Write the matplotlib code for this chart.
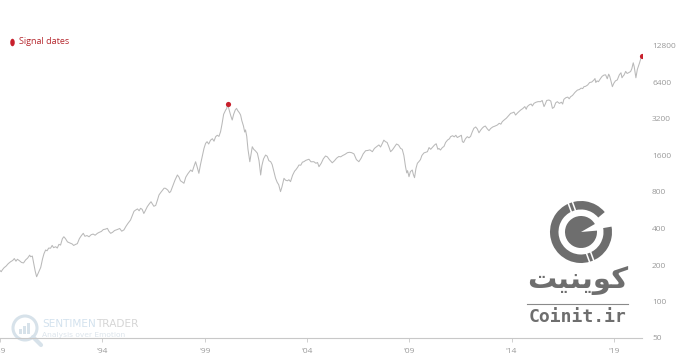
import matplotlib
matplotlib.use("Agg")
import matplotlib.pyplot as plt
from matplotlib.patches import Circle, Wedge, Rectangle, Ellipse
import numpy as np

# ---- data ----
years = [
    1989.00, 1989.06, 1989.11, 1989.20, 1989.30, 1989.40, 1989.52, 1989.62, 1989.70, 1989.78,
    1989.85, 1989.95, 1990.05, 1990.15, 1990.25, 1990.35, 1990.45, 1990.50, 1990.58, 1990.65,
    1990.72, 1990.79, 1990.86, 1990.93, 1990.99, 1991.08, 1991.15, 1991.23, 1991.30, 1991.38,
    1991.47, 1991.55, 1991.62, 1991.72, 1991.80, 1991.88, 1991.96, 1992.05, 1992.12, 1992.20,
    1992.30, 1992.40, 1992.53, 1992.60, 1992.70, 1992.78, 1992.88, 1992.98, 1993.07, 1993.15,
    1993.25, 1993.35, 1993.45, 1993.55, 1993.65, 1993.76, 1993.85, 1993.95, 1994.05, 1994.15,
    1994.25, 1994.32, 1994.41, 1994.50, 1994.60, 1994.73, 1994.85, 1994.95, 1995.06, 1995.15,
    1995.25, 1995.38, 1995.48, 1995.55, 1995.63, 1995.72, 1995.80, 1995.87, 1995.95, 1996.03,
    1996.10, 1996.20, 1996.30, 1996.38, 1996.52, 1996.61, 1996.70, 1996.77, 1996.85, 1996.95,
    1997.02, 1997.09, 1997.20, 1997.28, 1997.34, 1997.45, 1997.55, 1997.67, 1997.75, 1997.82,
    1997.90, 1997.99, 1998.08, 1998.18, 1998.32, 1998.40, 1998.48, 1998.56, 1998.64, 1998.72,
    1998.80, 1998.90, 1998.97, 1999.05, 1999.12, 1999.20, 1999.29, 1999.38, 1999.46, 1999.54,
    1999.62, 1999.70, 1999.78, 1999.85, 1999.93, 2000.03, 2000.08, 2000.13, 2000.20, 2000.28,
    2000.35, 2000.42, 2000.50, 2000.56, 2000.62, 2000.70, 2000.76, 2000.82, 2000.90, 2000.96,
    2001.00, 2001.06, 2001.12, 2001.21, 2001.27, 2001.33, 2001.40, 2001.48, 2001.58, 2001.66,
    2001.74, 2001.80, 2001.88, 2001.98, 2002.06, 2002.14, 2002.23, 2002.30, 2002.40, 2002.47,
    2002.55, 2002.62, 2002.71, 2002.78, 2002.88, 2002.96, 2003.05, 2003.12, 2003.20, 2003.30,
    2003.40, 2003.45, 2003.55, 2003.61, 2003.70, 2003.78, 2003.85, 2003.95, 2004.05, 2004.10,
    2004.20, 2004.34, 2004.44, 2004.52, 2004.59, 2004.70, 2004.80, 2004.91, 2005.00, 2005.10,
    2005.24, 2005.35, 2005.45, 2005.56, 2005.65, 2005.75, 2005.85, 2005.98, 2006.08, 2006.18,
    2006.30, 2006.42, 2006.54, 2006.65, 2006.75, 2006.87, 2006.97, 2007.08, 2007.20, 2007.30,
    2007.42, 2007.52, 2007.60, 2007.68, 2007.76, 2007.84, 2007.92, 2008.00, 2008.09, 2008.18,
    2008.28, 2008.38, 2008.48, 2008.58, 2008.66, 2008.74, 2008.82, 2008.88, 2008.92, 2008.99,
    2009.06, 2009.15, 2009.20, 2009.26, 2009.33, 2009.40, 2009.47, 2009.55, 2009.62, 2009.72,
    2009.80, 2009.89, 2009.97, 2010.05, 2010.15, 2010.24, 2010.32, 2010.40, 2010.45, 2010.53,
    2010.62, 2010.70, 2010.78, 2010.88, 2010.97, 2011.02, 2011.12, 2011.20, 2011.28, 2011.35,
    2011.45, 2011.55, 2011.60, 2011.66, 2011.75, 2011.84, 2011.92, 2012.00, 2012.08, 2012.16,
    2012.25, 2012.33, 2012.41, 2012.50, 2012.58, 2012.65, 2012.72, 2012.82, 2012.90, 2012.98,
    2013.08, 2013.20, 2013.31, 2013.40, 2013.48, 2013.55, 2013.65, 2013.75, 2013.85, 2013.96,
    2014.05, 2014.12, 2014.20, 2014.30, 2014.38, 2014.45, 2014.55, 2014.65, 2014.72, 2014.77,
    2014.88, 2014.96, 2015.02, 2015.10, 2015.20, 2015.30, 2015.42, 2015.50, 2015.59, 2015.65,
    2015.72, 2015.83, 2015.92, 2016.00, 2016.08, 2016.16, 2016.24, 2016.34, 2016.44, 2016.50,
    2016.56, 2016.66, 2016.75, 2016.82, 2016.89, 2016.98, 2017.10, 2017.22, 2017.32, 2017.40,
    2017.48, 2017.54, 2017.62, 2017.72, 2017.82, 2017.92, 2018.03, 2018.08, 2018.12, 2018.18,
    2018.25, 2018.35, 2018.43, 2018.52, 2018.60, 2018.68, 2018.75, 2018.80, 2018.86, 2018.93,
    2019.00, 2019.08, 2019.17, 2019.27, 2019.35, 2019.40, 2019.47, 2019.50, 2019.58, 2019.65,
    2019.72, 2019.82, 2019.88, 2019.95, 2020.00, 2020.08, 2020.15, 2020.25, 2020.36]
values = [
    180, 176, 182, 190, 196, 205, 213, 218, 226, 215,
    223, 217, 210, 208, 220, 228, 241, 234, 237, 205,
    178, 160, 170, 180, 191, 225, 248, 266, 262, 276,
    275, 290, 278, 283, 276, 296, 292, 330, 342, 330,
    310, 305, 298, 290, 296, 300, 330, 350, 365, 345,
    350, 342, 355, 360, 352, 365, 372, 378, 392, 395,
    401, 380, 365, 372, 385, 392, 400, 380, 390, 415,
    440, 470, 520, 555, 568, 580, 560, 587, 575, 532,
    560, 606, 640, 665, 610, 620, 690, 756, 790, 830,
    860, 858, 830, 790, 806, 900, 1000, 1105, 1060, 990,
    970, 944, 1060, 1130, 1214, 1180, 1300, 1422, 1280, 1141,
    1350, 1620, 1830, 2016, 2080, 1990, 2141, 2200, 2100, 2287,
    2350, 2300, 2514, 2900, 3500, 3797, 3900, 4256, 3800, 3400,
    3140, 3500, 3800, 3916, 3750, 3600, 3450, 3100, 2800, 2500,
    2600, 2300, 1800, 1422, 1650, 1890, 1800, 1750, 1670, 1450,
    1105, 1320, 1500, 1614, 1580, 1450, 1422, 1350, 1150, 1037,
    960, 920, 806, 880, 1037, 1000, 990, 1010, 974, 1100,
    1190, 1214, 1280, 1336, 1330, 1410, 1422, 1460, 1480, 1490,
    1420, 1422, 1380, 1400, 1294, 1380, 1500, 1585, 1560, 1480,
    1393, 1450, 1520, 1570, 1560, 1600, 1630, 1687, 1700, 1690,
    1650, 1480, 1422, 1520, 1650, 1752, 1760, 1780, 1720, 1830,
    1900, 1955, 1880, 2000, 2141, 2080, 2050, 1900, 1720, 1780,
    1880, 1990, 1950, 1830, 1800, 1600, 1294, 1150, 1200, 1070,
    1180, 1214, 1120, 1050, 1250, 1380, 1422, 1480, 1600, 1680,
    1700, 1720, 1860, 1800, 1880, 1955, 2000, 1800, 1830, 1776,
    1860, 1900, 2050, 2150, 2200, 2287, 2330, 2280, 2350, 2250,
    2300, 2350, 2080, 2050, 2200, 2287, 2240, 2300, 2500, 2681,
    2750, 2650, 2464, 2600, 2700, 2766, 2800, 2650, 2565, 2670,
    2750, 2800, 2856, 2950, 2900, 3044, 3150, 3250, 3400, 3565,
    3600, 3650, 3450, 3600, 3700, 3797, 3900, 4050, 3850, 4050,
    4200, 4250, 4100, 4311, 4400, 4450, 4446, 4550, 4050, 4250,
    4550, 4590, 4500, 3916, 4000, 4350, 4446, 4300, 4400, 4250,
    4650, 4800, 4850, 4700, 4890, 5000, 5300, 5540, 5600, 5750,
    5700, 5910, 5950, 6100, 6400, 6450, 6717, 6900, 6400, 6600,
    6500, 6900, 7200, 7370, 7400, 6870, 7500, 7200, 6600, 5910,
    6300, 6600, 6717, 7400, 7700, 7000, 7300, 7370, 7900, 7600,
    7700, 7880, 8300, 9300, 8600, 7000, 8200, 9200, 10600]
signal_years = [2000.13, 2020.36]
signal_values = [4256, 10600]
tick_years = [1989, 1994, 1999, 2004, 2009, 2014, 2019]
tick_labels = ["'89", "'94", "'99", "'04", "'09", "'14", "'19"]
y_ticks = [50, 100, 200, 400, 800, 1600, 3200, 6400, 12800]

W, H = 680, 364
fig = plt.figure(figsize=(W / 100, H / 100), dpi=100)

# main axes geometry in pixels
left_px, right_px, top_px, bot_px = 0, 642.4, 30, 338
ax = fig.add_axes([left_px / W, 1 - bot_px / H, (right_px - left_px) / W, (bot_px - top_px) / H])
ax.set_yscale("log", base=2)
ax.set_ylim(50, 50 * 2 ** ((bot_px - top_px) / 36.5))
ax.set_xlim(1989.0, 1989.0 + right_px / 20.46)

ax.plot(years, values, color="#b9b9b9", lw=0.75, zorder=2)
ax.scatter(signal_years, signal_values, s=14, color="#c8202c", zorder=3, linewidths=0)

for s in ["top", "left", "right"]:
    ax.spines[s].set_visible(False)
ax.spines["bottom"].set_color("#c8c8c8")
ax.spines["bottom"].set_linewidth(0.8)

ax.yaxis.tick_right()
ax.set_yticks(y_ticks)
ax.set_yticklabels([str(v) for v in y_ticks])
ax.yaxis.set_minor_locator(matplotlib.ticker.NullLocator())
ax.tick_params(axis="y", length=0, pad=7, labelsize=6, labelcolor="#9a9a9a",
               labelfontfamily="Open Sans")
ax.set_xticks(tick_years)
ax.set_xticklabels(tick_labels)
ax.tick_params(axis="x", length=3, width=0.6, color="#c8c8c8", pad=4, labelsize=6,
               labelcolor="#9a9a9a", labelfontfamily="Open Sans")
for lab in ax.get_yticklabels():
    lab.set_horizontalalignment("left")

# overlay in pixel coordinates for legend and watermarks
ov = fig.add_axes([0, 0, 1, 1], zorder=0)
ov.set_xlim(0, W)
ov.set_ylim(H, 0)
ov.axis("off")
ov.patch.set_alpha(0)
ax.set_zorder(1)
ax.patch.set_alpha(0)

# legend
ov.add_patch(Ellipse((12.5, 42.5), 4.5, 7.5, color="#c8202c", lw=0))
ov.text(19, 41, "Signal dates", fontsize=6.5, color="#b5272d", family="Open Sans",
        va="center", ha="left")

# SentimenTrader watermark
ov.add_patch(Circle((25, 328), 12, fill=False, ec="#d7e2ea", lw=2.2))
for bx, bh in [(19, 5), (23, 8), (27, 11)]:
    ov.add_patch(Rectangle((bx, 334 - bh), 3, bh, color="#d7e2ea", lw=0))
ov.plot([33, 41], [337, 345], color="#d7e2ea", lw=3, solid_capstyle="round")
t1 = ov.text(42, 324, "SENTIMEN", fontsize=7.6, color="#d3e2ee", family="DejaVu Sans",
             va="center", ha="left")
renderer = fig.canvas.get_renderer()
bb = t1.get_window_extent(renderer)
ov.text(bb.x1 + 0.5, 324, "TRADER", fontsize=7.6, color="#d6d6d6", family="DejaVu Sans",
        va="center", ha="left")
ov.text(42, 335, "Analysis over Emotion", fontsize=5.4, color="#dde5ec",
        family="DejaVu Sans", va="center", ha="left")

# Coinit watermark
gc = "#6e6e6e"
cx, cy = 581, 232
ov.add_patch(Wedge((cx, cy), 31, -10, 320, width=8.5, color=gc, lw=0))
ov.add_patch(Wedge((cx, cy), 16, -5, 330, color=gc, lw=0))
for ang in [250, 70]:
    a = np.deg2rad(ang)
    for off in (-2.2, 2.2):
        px_, py_ = -np.sin(a) * off, np.cos(a) * off
        ov.plot([cx + 21 * np.cos(a) + px_, cx + 32 * np.cos(a) + px_],
                [cy + 21 * np.sin(a) + py_, cy + 32 * np.sin(a) + py_],
                color="white", lw=1.1)
persian = "\uFE96\uFEF4\uFEE8\uFEF3\uFEEE\uFB90"
ov.text(578, 280, persian, fontsize=21, color=gc, family="DejaVu Sans",
        fontweight="bold", va="center", ha="center")
ov.plot([527, 628], [304, 304], color="#8a8a8a", lw=0.8)
ov.text(578, 317, "Coinit.ir", fontsize=13, color=gc, family="DejaVu Sans Mono",
        fontweight="bold", va="center", ha="center")

fig.savefig("out.png", dpi=100)
